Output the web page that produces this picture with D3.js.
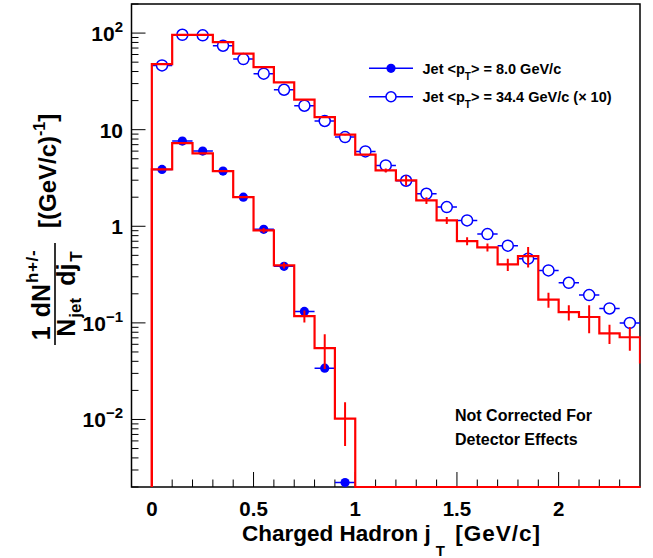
<!DOCTYPE html>
<html><head><meta charset="utf-8">
<script src="https://cdn.jsdelivr.net/npm/d3@7"></script>
<style>
body{margin:0;background:#fff}
svg{display:block}
text{font-family:"Liberation Sans",Arial,Helvetica,sans-serif;font-weight:bold;fill:#000}
</style>
</head><body>
<svg id="c" width="653" height="558"></svg>
<script>
// ---------------- data ----------------
const binLow = [0.0,0.1,0.2,0.3,0.4,0.5,0.6,0.7,0.8,0.9,1.0,1.1,1.2,1.3,1.4,1.5,1.6,1.7,1.8,1.9,2.0,2.1,2.2,2.3,2.4];
const binWidth = 0.1;
// Jet <pT> = 8.0 GeV/c : histogram (red) and points (blue filled)
const lowHist    = [3.88,7.27,5.69,3.73,2.0,0.907,0.394,0.1175,0.0548,0.0102,0,0,0,0,0,0,0,0,0,0,0,0,0,0,0];
const lowHistErr = [0.05,0.09,0.07,0.05,0.035,0.05,0.028,0.0168,0.0215,0.0049,0,0,0,0,0,0,0,0,0,0,0,0,0,0,0];
const lowPtsX    = [0.05,0.15,0.25,0.35,0.45,0.55,0.65,0.75,0.85,0.95];
const lowPts     = [3.88,7.62,6.0,3.73,2.0,0.93,0.385,0.1315,0.034,0.00222];
// Jet <pT> = 34.4 GeV/c (x10) : histogram (red) and points (blue open)
const highHist    = [47.8,96,96,80.7,61.2,44.5,30.9,20.5,13.5,8.87,5.51,3.79,2.99,1.85,1.15,0.703,0.605,0.403,0.492,0.174,0.129,0.115,0.078,0.071,0.039];
const highHistErr = [0.3,0.5,0.5,0.45,0.35,0.3,0.25,0.2,0.16,0.12,0.09,0.18,0.36,0.15,0.096,0.067,0.058,0.058,0.117,0.031,0.023,0.037,0.0177,0.0195,0.01];
const highPtsX = [0.05,0.15,0.25,0.35,0.45,0.55,0.65,0.75,0.85,0.95,1.05,1.15,1.25,1.35,1.45,1.55,1.65,1.75,1.85,1.95,2.05,2.15,2.25,2.35];
const highPts  = [46.3,96,94.7,74,53.8,38,25.9,17.7,12.3,8.38,5.96,4.27,2.96,2.17,1.58,1.15,0.83,0.63,0.462,0.349,0.26,0.194,0.141,0.100];
// axis ticks
const xMajor = [0,0.5,1,1.5,2];
const xMajorLabels = ["0","0.5","1","1.5","2"];
const xMinor = [0.1,0.2,0.3,0.4,0.6,0.7,0.8,0.9,1.1,1.2,1.3,1.4,1.6,1.7,1.8,1.9,2.1,2.2,2.3];
const yMajor = [0.01,0.1,1,10,100];
const yMajorBase = ["10","10","1","10","10"];
const yMajorExp  = ["\u22122","\u22121","","","2"];
const yMinorMult = [2,3,4,5,6,7,8,9];
const yDecades = [0.001,0.01,0.1,1,10,100];
const legendLabels = ["8.0 GeV/c","34.4 GeV/c (\u00d7 10)"];

// ---------------- layout ----------------
const L=131.5, R=640, T=4, B=487;
const RED="#ff0000", BLUE="#0000ff";
const svg = d3.select("#c");
const x = d3.scaleLinear().domain([-0.1,2.4]).range([L,R]);
const y = d3.scaleLog().domain([0.002,200]).range([B,T]);

svg.append("rect").attr("width",653).attr("height",558).attr("fill","#fff");

// clip
svg.append("defs").append("clipPath").attr("id","clip")
  .append("rect").attr("x",L).attr("y",T).attr("width",R-L+0.5).attr("height",B-T+1.5);

// ticks
const tk = svg.append("g").attr("stroke","#000").attr("stroke-width",1);
xMajor.forEach(v=>tk.append("line").attr("x1",x(v)).attr("x2",x(v)).attr("y1",B).attr("y2",B-15));
xMinor.forEach(v=>tk.append("line").attr("x1",x(v)).attr("x2",x(v)).attr("y1",B).attr("y2",B-7.5));
yDecades.forEach(d=>{
  yMinorMult.forEach(m=>{
    const v=m*d; if(v<0.002||v>200) return;
    tk.append("line").attr("x1",L).attr("x2",L+7).attr("y1",y(v)).attr("y2",y(v));
  });
});
yMajor.forEach(v=>tk.append("line").attr("x1",L).attr("x2",L+14).attr("y1",y(v)).attr("y2",y(v)));

// frame
svg.append("rect").attr("x",L).attr("y",T).attr("width",R-L).attr("height",B-T)
  .attr("fill","none").attr("stroke","#000").attr("stroke-width",1.5);

// x tick labels
xMajor.forEach((v,i)=>{
  svg.append("text").attr("x",x(v)).attr("y",B+29).attr("text-anchor","middle")
    .attr("font-size",20.5).text(xMajorLabels[i]);
});
// y tick labels
yMajor.forEach((v,i)=>{
  const t = svg.append("text").attr("x",123).attr("y",y(v)+8).attr("text-anchor","end").attr("font-size",21);
  t.append("tspan").text(yMajorBase[i]);
  if(yMajorExp[i]) t.append("tspan").attr("dy",-9).attr("font-size",15).text(yMajorExp[i]);
});

// x title
const xt = svg.append("text").attr("x",242).attr("y",541).attr("font-size",22.5);
xt.append("tspan").text("Charged Hadron j");
xt.append("tspan").attr("dx",5).attr("dy",15).attr("font-size",15).text("T");
xt.append("tspan").attr("dx",3).attr("dy",-15).attr("letter-spacing",1).text(" [GeV/c]");

// y title
const yt = svg.append("g").attr("transform","translate(55,345) rotate(-90)");
yt.append("line").attr("x1",0).attr("x2",102).attr("y1",0).attr("y2",0).attr("stroke","#000").attr("stroke-width",1.6);
const num = yt.append("text").attr("x",50).attr("y",-5).attr("text-anchor","middle").attr("font-size",25);
num.append("tspan").text("1");
num.append("tspan").attr("dx",9).text("dN");
num.append("tspan").attr("dx",1).attr("dy",-12).attr("font-size",17).attr("letter-spacing",0.6).text("h+/-");
const den = yt.append("text").attr("x",51).attr("y",20).attr("text-anchor","middle").attr("font-size",25);
den.append("tspan").text("N");
den.append("tspan").attr("dx",1).attr("dy",6).attr("font-size",17).text("jet");
den.append("tspan").attr("dx",12).attr("dy",-6).text("dj");
den.append("tspan").attr("dx",2).attr("dy",7).attr("font-size",17).text("T");
const br = yt.append("text").attr("x",117).attr("y",1).attr("font-size",24);
br.append("tspan").text("[(GeV/c)");
br.append("tspan").attr("dy",-11).attr("font-size",16).text("-1");
br.append("tspan").attr("dy",11).text("]");

// data layer
const g = svg.append("g").attr("clip-path","url(#clip)");

function stepPath(vals){
  const p = d3.path();
  p.moveTo(x(binLow[0]), B);
  vals.forEach((v,i)=>{
    const yy = v>0 ? y(v) : B;
    p.lineTo(x(binLow[i]), yy);
    p.lineTo(x(binLow[i]+binWidth), yy);
  });
  return p.toString();
}

// blue points
function points(xs, vs, open){
  const r = open ? 5.5 : 4.6;
  xs.forEach((c,i)=>{
    const cx=x(c), cy=y(vs[i]);
    if(open){
      g.append("line").attr("x1",x(c-binWidth/2)).attr("x2",cx-r).attr("y1",cy).attr("y2",cy).attr("stroke",BLUE).attr("stroke-width",1.5);
      g.append("line").attr("x1",cx+r).attr("x2",x(c+binWidth/2)).attr("y1",cy).attr("y2",cy).attr("stroke",BLUE).attr("stroke-width",1.5);
      g.append("circle").attr("cx",cx).attr("cy",cy).attr("r",r).attr("fill","none").attr("stroke",BLUE).attr("stroke-width",1.5);
    } else {
      g.append("line").attr("x1",x(c-binWidth/2)).attr("x2",x(c+binWidth/2)).attr("y1",cy).attr("y2",cy).attr("stroke",BLUE).attr("stroke-width",1.5);
      g.append("circle").attr("cx",cx).attr("cy",cy).attr("r",r).attr("fill",BLUE);
    }
  });
}
points(highPtsX, highPts, true);
points(lowPtsX, lowPts, false);

// red histograms
function hist(vals, errs){
  g.append("path").attr("d",stepPath(vals)).attr("fill","none").attr("stroke",RED).attr("stroke-width",2.2).attr("stroke-linejoin","miter");
  vals.forEach((v,i)=>{
    if(v<=0||errs[i]<=0) return;
    const c = binLow[i]+binWidth/2;
    const lo = Math.max(v-errs[i], 0.0001);
    g.append("line").attr("x1",x(c)).attr("x2",x(c)).attr("y1",y(lo)).attr("y2",y(v+errs[i]))
      .attr("stroke",RED).attr("stroke-width",2);
  });
}
hist(highHist, highHistErr);
hist(lowHist, lowHistErr);

// legend
const legY = [68.3, 96.7];
legY.forEach((ly,i)=>{
  svg.append("line").attr("x1",369).attr("x2",413).attr("y1",ly).attr("y2",ly).attr("stroke",BLUE).attr("stroke-width",1.5);
  if(i===0) svg.append("circle").attr("cx",391).attr("cy",ly).attr("r",4.6).attr("fill",BLUE);
  else svg.append("circle").attr("cx",391).attr("cy",ly).attr("r",5).attr("fill","#fff").attr("stroke",BLUE).attr("stroke-width",1.5);
  const t = svg.append("text").attr("x",422.5).attr("y",ly+5.7).attr("font-size",14.5);
  t.append("tspan").text("Jet <p");
  t.append("tspan").attr("dy",6).attr("font-size",10).text("T");
  t.append("tspan").attr("dy",-6).text("> = "+legendLabels[i]);
});

// annotation
svg.append("text").attr("x",455).attr("y",421).attr("font-size",16).text("Not Corrected For");
svg.append("text").attr("x",455).attr("y",445).attr("font-size",16).text("Detector Effects");
</script>
</body></html>
